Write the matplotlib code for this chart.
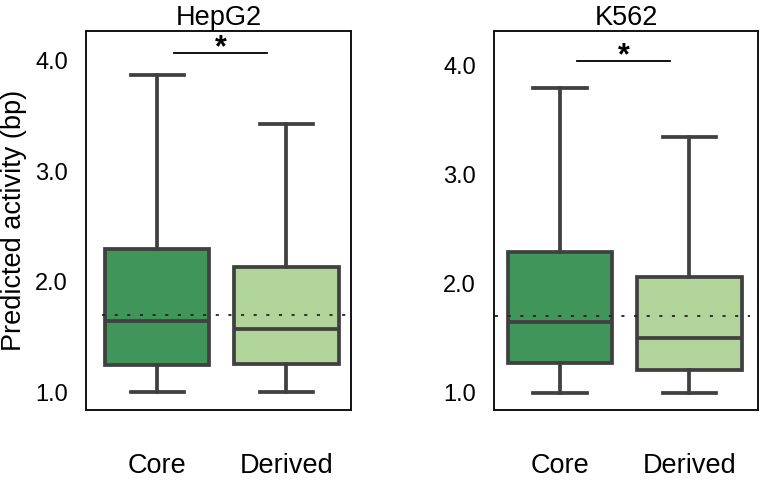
import matplotlib.pyplot as plt

plt.rcParams['font.family'] = ['Liberation Sans', 'DejaVu Sans']

cell_lines = ['HepG2', 'K562']
groups = ['Core', 'Derived']
colors = ['#40955a', '#b1d49a']

# box stats per cell line: [Core, Derived]
whislo = [[1.0, 1.0], [1.0, 1.0]]
q1 = [[1.245, 1.26], [1.27, 1.21]]
med = [[1.645, 1.57], [1.645, 1.50]]
q3 = [[2.30, 2.13], [2.29, 2.06]]
whishi = [[3.87, 3.43], [3.80, 3.35]]

ref_line = 1.70
sig_y = [4.07, 4.04]
ylims = [(0.84, 4.27), (0.84, 4.32)]
ref_xspan = [(-0.43, 1.46), (-0.50, 1.47)]
yticks = [1.0, 2.0, 3.0, 4.0]

fig = plt.figure(figsize=(7.6, 4.82), dpi=100)
axes = [fig.add_axes([0.1132, 0.1494, 0.3487, 0.7863]),
        fig.add_axes([0.650, 0.1494, 0.3474, 0.7863])]

edge = '#404040'
for i, ax in enumerate(axes):
    stats = []
    for j, g in enumerate(groups):
        stats.append(dict(label=g, whislo=whislo[i][j], q1=q1[i][j], med=med[i][j],
                          q3=q3[i][j], whishi=whishi[i][j], fliers=[]))
    bp = ax.bxp(stats, positions=[0, 1], widths=0.81, patch_artist=True,
                showfliers=False, capwidths=0.41,
                boxprops=dict(edgecolor=edge, linewidth=2.7),
                medianprops=dict(color=edge, linewidth=2.7),
                whiskerprops=dict(color=edge, linewidth=2.7),
                capprops=dict(color=edge, linewidth=2.7))
    for patch, c in zip(bp['boxes'], colors):
        patch.set_facecolor(c)

    ax.hlines(ref_line, ref_xspan[i][0], ref_xspan[i][1], colors='#222222',
              linewidth=1.3, linestyles=(0, (1.7, 5.3)), zorder=5)

    ax.plot([0.13, 0.85], [sig_y[i], sig_y[i]], color='black', linewidth=1.3)
    ax.text(0.49, sig_y[i] - 0.09, '*', ha='center', va='bottom',
            fontsize=22, fontweight='bold')

    ax.set_xlim(-0.55 if i == 0 else -0.51, 1.50 if i == 0 else 1.53)
    ax.set_ylim(*ylims[i])
    ax.set_yticks(yticks)
    ax.set_yticklabels([f'{t:.1f}' for t in yticks])
    ax.set_xticks([0, 1])
    ax.set_xticklabels(groups)
    ax.tick_params(axis='both', length=0)
    ax.tick_params(axis='y', pad=13, labelsize=17)
    ax.tick_params(axis='x', pad=31, labelsize=19.5)
    for s in ax.spines.values():
        s.set_linewidth(1.4)
        s.set_color('#111111')
    ax.set_title(cell_lines[i], fontsize=19.5, pad=4)

axes[0].set_ylabel('Predicted activity (bp)', fontsize=19.5, labelpad=6)

plt.savefig('out.png', dpi=100)
